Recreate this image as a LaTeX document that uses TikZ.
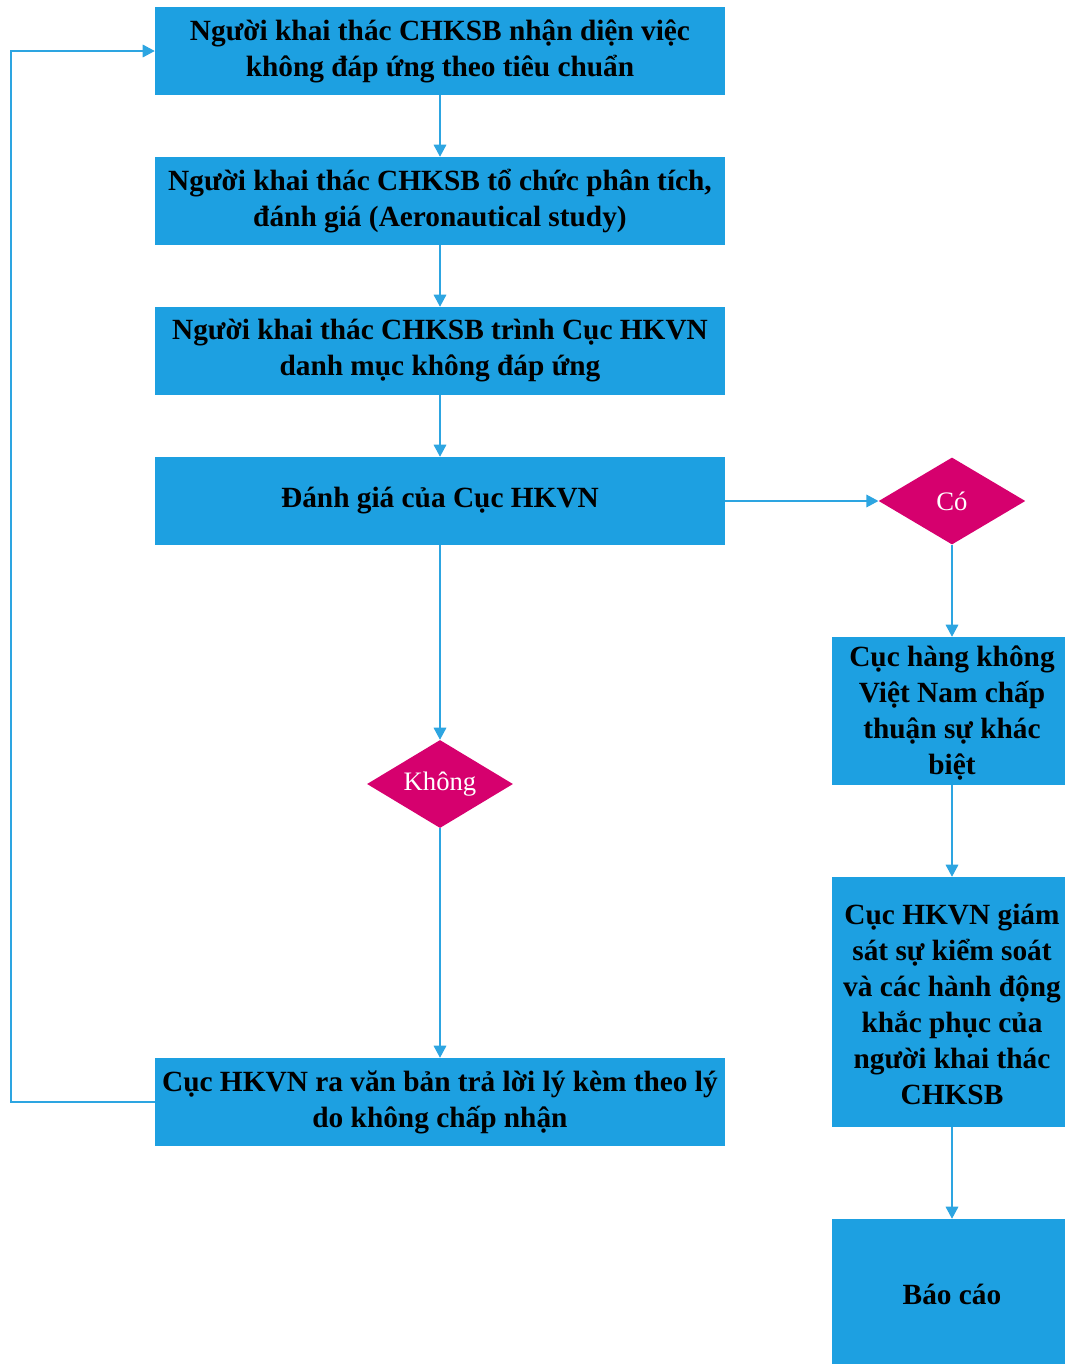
\documentclass[tikz,border=0pt]{standalone}
\usepackage{fontspec}
\setmainfont{Liberation Serif}
\usetikzlibrary{shapes.geometric,arrows.meta,calc}
\definecolor{boxblue}{RGB}{29,160,225}
\definecolor{linkblue}{RGB}{45,165,225}
\definecolor{decmag}{RGB}{214,0,110}
\begin{document}
\begin{tikzpicture}[x=0.75pt,y=-0.75pt,
  wide/.style={rectangle,fill=boxblue,draw=none,minimum width=427.5pt,minimum height=66pt,inner sep=0pt,
    align=center,font=\fontsize{22}{27}\selectfont\bfseries,text=black},
  side/.style={rectangle,fill=boxblue,draw=none,minimum width=174.75pt,inner sep=0pt},
  sidetext/.style={inner sep=0pt,align=center,font=\fontsize{22}{27}\selectfont\bfseries,text=black},
  decide/.style={diamond,fill=decmag,draw=none,inner sep=0pt},
  dlabel/.style={text=white,font=\fontsize{20}{23}\selectfont},
  conn/.style={draw=linkblue,line width=0.9pt,-{Triangle[length=9pt,width=9.5pt]}}
]
\useasboundingbox (0,0) rectangle (1065,1364);
\node[wide] (b1) at (440,51) {\raisebox{-2pt}{\parbox{420pt}{\centering Người khai thác CHKSB nhận diện việc\\không đáp ứng theo tiêu chuẩn}}};
\node[wide] (b2) at (440,201) {\raisebox{-2pt}{\parbox{420pt}{\centering Người khai thác CHKSB tổ chức phân tích,\\đánh giá (Aeronautical study)}}};
\node[wide] (b3) at (440,351) {\raisebox{-2pt}{\parbox{420pt}{\centering Người khai thác CHKSB trình Cục HKVN\\danh mục không đáp ứng}}};
\node[wide] (b4) at (440,501) {Đánh giá của Cục HKVN};
\node[decide,minimum width=109.5pt,minimum height=66pt] (dk) at (440,784) {};
\node[dlabel] (dkl) at (440,784) {Không};
\node[wide] (b5) at (440,1102) {\raisebox{-2pt}{\parbox{420pt}{\centering Cục HKVN ra văn bản trả lời lý kèm theo lý\\do không chấp nhận}}};
\node[decide,minimum width=110pt,minimum height=65.25pt] (dc) at (952,501) {};
\node[dlabel] (dcl) at (952,501) {Có};
\node[side,minimum height=111pt] (r1) at (948.5,711) {};
\node[sidetext] (r1t) at (952,713) {Cục hàng không\\Việt Nam chấp\\thuận sự khác\\biệt};
\node[side,minimum height=187.5pt] (r2) at (948.5,1002) {};
\node[sidetext] (r2t) at (952,1004) {Cục HKVN giám\\sát sự kiểm soát\\và các hành động\\khắc phục của\\người khai thác\\CHKSB};
\node[side,minimum height=108.75pt] (r3) at (948.5,1291.5) {};
\node[sidetext] (r3t) at (952,1294) {Báo cáo};
\coordinate (lp) at (11,1102);
\draw[conn] (b1.south) -- (b2.north);
\draw[conn] (b2.south) -- (b3.north);
\draw[conn] (b3.south) -- (b4.north);
\draw[conn] (b4.south) -- (dk.north);
\draw[conn] (dk.south) -- (b5.north);
\draw[conn] (b4.east) -- (dc.west);
\draw[conn] (dc.south) -- (dc.south |- r1.north);
\draw[conn] (dc.south |- r1.south) -- (dc.south |- r2.north);
\draw[conn] (dc.south |- r2.south) -- (dc.south |- r3.north);
\draw[conn] (b5.west) -- (lp) |- (b1.west);
\end{tikzpicture}
\end{document}
